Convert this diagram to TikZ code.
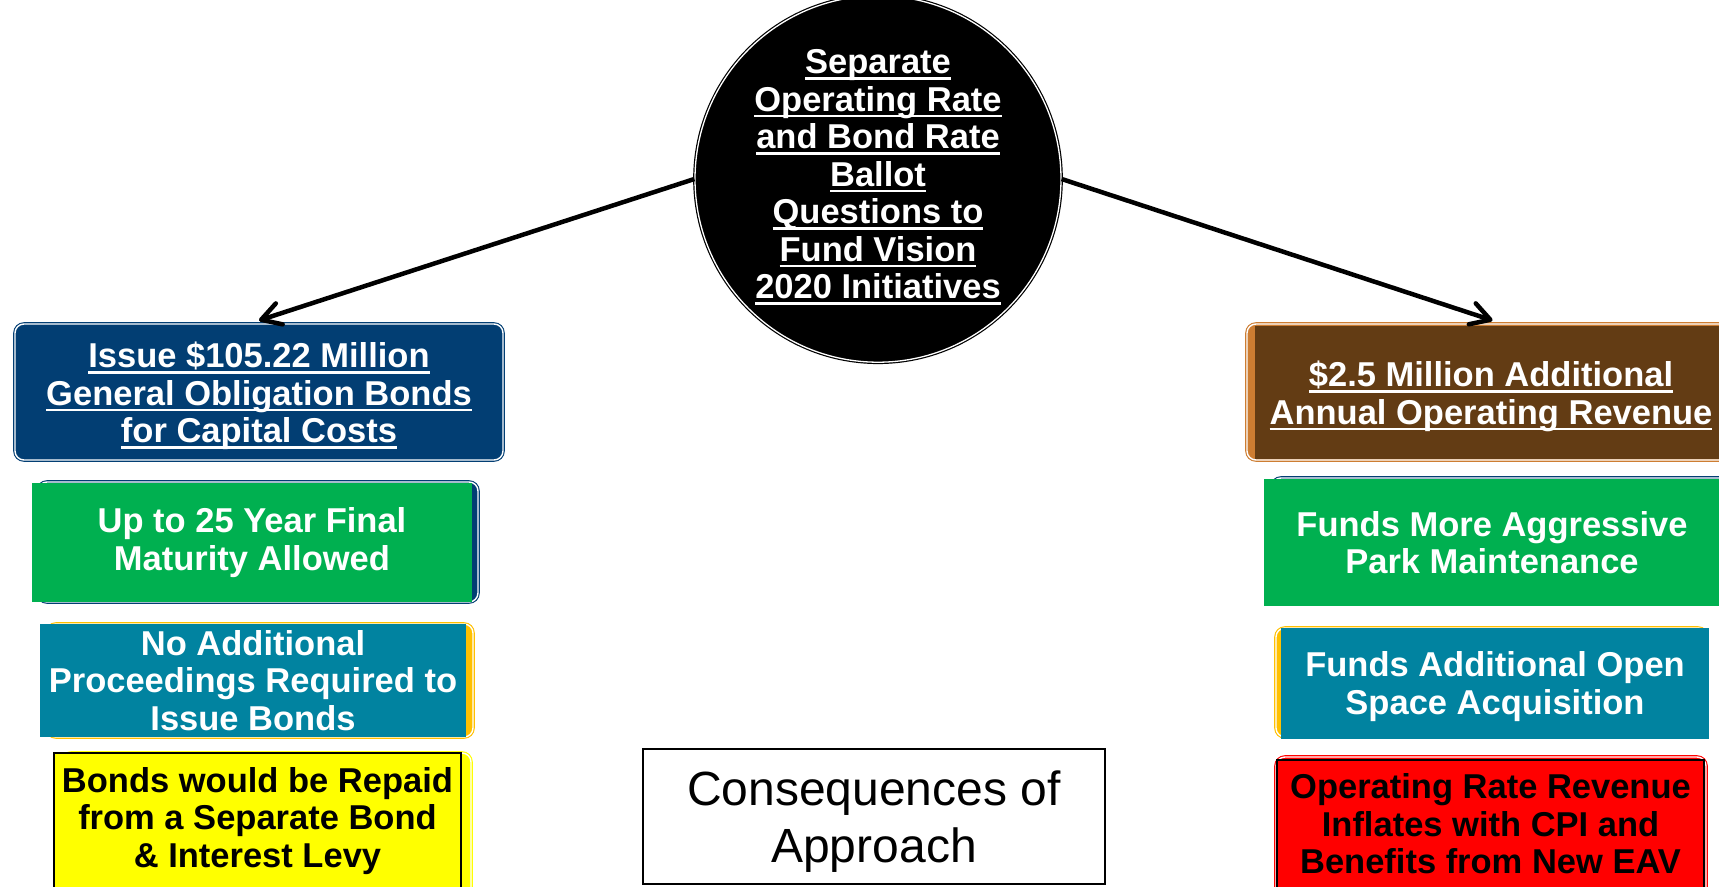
\documentclass[tikz,border=0pt]{standalone}
\usepackage{fontspec}
\setmainfont{Liberation Sans}
\usetikzlibrary{arrows.meta,shapes.geometric}
\definecolor{navy}{RGB}{2,62,115}
\definecolor{brownfill}{RGB}{99,60,20}
\definecolor{brownedge}{RGB}{205,125,50}
\definecolor{boxgreen}{RGB}{0,176,80}
\definecolor{boxteal}{RGB}{1,131,160}
\definecolor{gold}{RGB}{255,192,0}
\definecolor{boxyellow}{RGB}{255,255,0}
\definecolor{boxred}{RGB}{255,0,0}
\newcommand\ulx[1]{\setbox0\hbox{#1}\rlap{\rule[-6bp]{\wd0}{2.5bp}}\box0}
\newcommand\tstrut[1]{\rule{0pt}{#1}}
\newcommand\bstrut[1]{\rule[-#1]{0pt}{#1}}
\newcommand\bigbold{\fontsize{34.5bp}{37.5bp}\selectfont\bfseries}
\newcommand\bigreg{\fontsize{48bp}{57bp}\selectfont}
\begin{document}
\begin{tikzpicture}[x=1bp,y=-1bp,
  txtw/.style={text=white, font=\bigbold, align=center, inner sep=0pt},
  txtk/.style={text=black, font=\bigbold, align=center, inner sep=0pt},
  ringbox/.style={rectangle, rounded corners=9bp, draw=#1, fill=#1, double=white, double distance=1.4bp, line width=1.1bp, inner sep=0pt},
  flatbox/.style={rectangle, fill=#1, inner sep=0pt},
  edgebox/.style={rectangle, fill=#1, draw=black, line width=1.5bp, inner sep=0pt},
  conn/.style={line width=4.5bp, -{Straight Barb[length=19bp, width=22bp, round]}}
]
\useasboundingbox[fill=white] (0,0) rectangle (1719,886);

% central ellipse
\node[ellipse, fill=black, draw=black, double=white, double distance=1.3bp, line width=1.2bp,
      minimum width=366bp, minimum height=340bp, txtw] (ballot) at (878,179)
  {\ulx{Separate}\\\ulx{Operating Rate}\\\ulx{and Bond Rate}\\\ulx{Ballot}\\\ulx{Questions to}\\\ulx{Fund Vision}\\\ulx{2020 Initiatives}\bstrut{10bp}};

% left column
\node[ringbox=navy, minimum width=488bp, minimum height=136bp, txtw] (bonds) at (259,392)
  {\tstrut{34bp}\ulx{Issue \$105.22 Million}\\\ulx{General Obligation Bonds}\\\ulx{for Capital Costs}};

\node[ringbox=navy, minimum width=440bp, minimum height=120bp] (matback) at (258,542) {};
\node[flatbox=boxgreen, minimum width=440bp, minimum height=119bp, txtw] (maturity) at (252,542.5)
  {Up to 25 Year Final\\Maturity Allowed};

\node[ringbox=gold, minimum width=426bp, minimum height=113bp] (procback) at (260,680.5) {};
\node[flatbox=boxteal, minimum width=426bp, minimum height=113bp, txtw] (proceed) at (253,680.5)
  {No Additional\\Proceedings Required to\\Issue Bonds};

\node[ringbox=boxyellow, minimum width=409bp, minimum height=145bp] (repayback) at (266.5,825.5) {};
\node[edgebox=boxyellow, minimum width=407bp, minimum height=136bp, txtk] (repaid) at (257.5,821)
  {Bonds would be Repaid\\from a Separate Bond\\\& Interest Levy};

% right column
\node[ringbox=brownedge, minimum width=491bp, minimum height=136bp] (revenue) at (1492.5,392) {};
\node[flatbox=brownfill, minimum width=472bp, minimum height=133bp, txtw] (revtext) at (1491,392.5)
  {\tstrut{33bp}\ulx{\$2.5 Million Additional}\\\ulx{Annual Operating Revenue}};

\node[ringbox=navy, minimum width=466bp, minimum height=126bp] (parkback) at (1505,541) {};
\node[flatbox=boxgreen, minimum width=456bp, minimum height=127bp, txtw] (park) at (1492,542.5)
  {Funds More Aggressive\\Park Maintenance};

\node[ringbox=gold, minimum width=431bp, minimum height=109bp] (openback) at (1491.5,682.5) {};
\node[flatbox=boxteal, minimum width=428bp, minimum height=111bp, txtw] (openspace) at (1495,683.5)
  {\tstrut{31bp}Funds Additional Open\\Space Acquisition};

\node[ringbox=boxred, minimum width=430bp, minimum height=141bp] (cpiback) at (1491,827.5) {};
\node[edgebox=boxred, minimum width=427bp, minimum height=128bp, txtk] (cpi) at (1490.5,824)
  {Operating Rate Revenue\\Inflates with CPI and\\Benefits from New EAV};

% bottom centre label
\node[rectangle, draw=black, line width=1.5bp, minimum width=462bp, minimum height=135bp,
      inner sep=0pt, font=\bigreg, align=center] (conseq) at (874,816.5)
  {\tstrut{45bp}Consequences of\\Approach};

% connectors
\draw[conn] (ballot.west) -- ([yshift=3bp]bonds.north);
\draw[conn] (ballot.east) -- ([yshift=3bp]revenue.north);
\end{tikzpicture}
\end{document}
